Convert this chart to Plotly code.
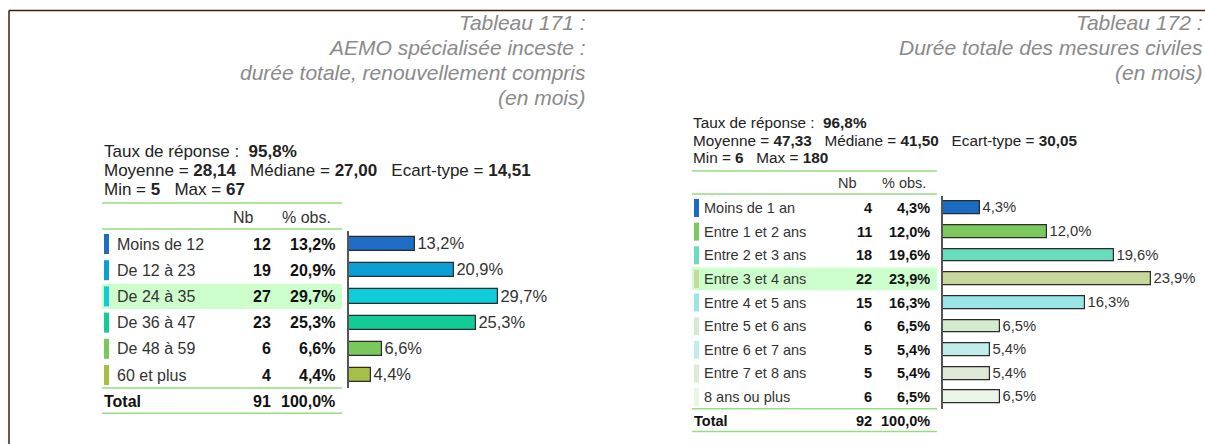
import plotly.graph_objects as go

W, H = 1205, 444
FONT = "Liberation Sans, Arial, sans-serif"

# ---- Tableau 171 data ----
left_title = ["Tableau 171 :", "AEMO spécialisée inceste :",
              "durée totale, renouvellement compris", "(en mois)"]
left_categories = ["Moins de 12", "De 12 à 23", "De 24 à 35", "De 36 à 47",
                   "De 48 à 59", "60 et plus"]
left_counts = [12, 19, 27, 23, 6, 4]
left_pcts = [13.2, 20.9, 29.7, 25.3, 6.6, 4.4]
left_colors = ["#1f6cc4", "#0b9fd6", "#0ccdd8", "#12cc98", "#78c85c", "#a6bf48"]
left_total = (91, "100,0%")
left_stats = [("Taux de réponse :", "95,8%"),
              ("Moyenne =", "28,14"), ("Médiane =", "27,00"), ("Ecart-type =", "14,51"),
              ("Min =", "5"), ("Max =", "67")]
left_highlight = "De 24 à 35"

# ---- Tableau 172 data ----
right_title = ["Tableau 172 :", "Durée totale des mesures civiles", "(en mois)"]
right_categories = ["Moins de 1 an", "Entre 1 et 2 ans", "Entre 2 et 3 ans",
                    "Entre 3 et 4 ans", "Entre 4 et 5 ans", "Entre 5 et 6 ans",
                    "Entre 6 et 7 ans", "Entre 7 et 8 ans", "8 ans ou plus"]
right_counts = [4, 11, 18, 22, 15, 6, 5, 5, 6]
right_pcts = [4.3, 12.0, 19.6, 23.9, 16.3, 6.5, 5.4, 5.4, 6.5]
right_colors = ["#1a6cc6", "#7bc95e", "#6adcbe", "#c8d89c", "#9ae6e6",
                "#d4ecce", "#c0ecec", "#e0e8d6", "#eaf5e6"]
right_total = (92, "100,0%")
right_stats = [("Taux de réponse :", "96,8%"),
               ("Moyenne =", "47,33"), ("Médiane =", "41,50"), ("Ecart-type =", "30,05"),
               ("Min =", "6"), ("Max =", "180")]
right_highlight = "Entre 3 et 4 ans"


def px(x):
    return x / W


def py(y):
    return 1 - y / H


def fmt_pct(v):
    return f"{v:.1f}".replace(".", ",") + "%"


fig = go.Figure()
annotations = []
shapes = []

RULE = "#95dd80"
NBSP = "\u00a0"


def text(x, y, s, size, anchor="left", bold=False, color="#333", italic=False):
    if bold:
        s = f"<b>{s}</b>"
    if italic:
        s = f"<i>{s}</i>"
    annotations.append(dict(
        x=px(x), y=py(y), xref="paper", yref="paper", text=s, showarrow=False,
        xanchor=anchor, yanchor="middle", borderpad=0,
        font=dict(family=FONT, size=size, color=color)))


def panel(cfg):
    cats, counts, pcts, colors = cfg["cats"], cfg["counts"], cfg["pcts"], cfg["colors"]
    fs, sfs = cfg["fs"], cfg["sfs"]
    # title (right aligned, italic grey)
    for i, line in enumerate(cfg["title"]):
        text(cfg["title_x"], cfg["title_y0"] + i * cfg["title_dy"], line, cfg["title_fs"],
             anchor="right", italic=True, color="#8a8a8a")
    # summary statistics
    st = cfg["stats"]
    sx, sy, sdy = cfg["stats_x"], cfg["stats_y"], cfg["stats_dy"]
    sp = NBSP * 3
    text(sx, sy, f"{st[0][0]}{NBSP}{NBSP}<b>{st[0][1]}</b>", sfs, color="#222")
    text(sx, sy + sdy,
         f"{st[1][0]} <b>{st[1][1]}</b>{sp}{st[2][0]} <b>{st[2][1]}</b>{sp}{st[3][0]} <b>{st[3][1]}</b>",
         sfs, color="#222")
    text(sx, sy + 2 * sdy, f"{st[4][0]} <b>{st[4][1]}</b>{sp}{st[5][0]} <b>{st[5][1]}</b>",
         sfs, color="#222")

    x0, x1 = cfg["tab_x0"], cfg["tab_x1"]
    top, dy = cfg["row0"], cfg["row_dy"]
    rule1, rule2 = cfg["rule1"], cfg["rule2"]
    # header rules and header text
    for yy in (rule1, rule2):
        shapes.append(dict(type="line", xref="paper", yref="paper", x0=px(x0), x1=px(x1),
                           y0=py(yy), y1=py(yy), line=dict(color=RULE, width=1.5)))
    hy = (rule1 + rule2) / 2 + 1
    text(cfg["hdr_nb"], hy, "Nb", fs, anchor="right")
    text(cfg["hdr_pct"], hy, "% obs.", fs, anchor="right")

    for i, (c, n, p, col) in enumerate(zip(cats, counts, pcts, colors)):
        yc = top + i * dy
        if c == cfg["highlight"]:
            shapes.append(dict(type="rect", xref="paper", yref="paper", layer="below",
                               x0=px(x0), x1=px(x1), y0=py(yc - dy / 2 + 0.5),
                               y1=py(yc + dy / 2 - 0.5), fillcolor="#ccffcc", line_width=0))
        mh = cfg["marker_h"]
        shapes.append(dict(type="rect", xref="paper", yref="paper",
                           x0=px(x0 + 2), x1=px(x0 + 7), y0=py(yc - mh / 2), y1=py(yc + mh / 2),
                           fillcolor=col, line_width=0))
        text(cfg["label_x"], yc, c, fs)
        text(cfg["nb_x"], yc, str(n), fs, anchor="right", bold=True, color="#111")
        text(cfg["pct_x"], yc, fmt_pct(p), fs, anchor="right", bold=True, color="#111")

    bottom = top + (len(cats) - 0.5) * dy
    ty = bottom + dy / 2 + 0.5
    text(x0 + 1, ty, "Total", fs, bold=True, color="#111")
    text(cfg["nb_x"], ty, str(cfg["total"][0]), fs, anchor="right", bold=True, color="#111")
    text(cfg["pct_x"], ty, cfg["total"][1], fs, anchor="right", bold=True, color="#111")
    for yy in (bottom, bottom + dy - 1):
        shapes.append(dict(type="line", xref="paper", yref="paper", x0=px(x0), x1=px(x1),
                           y0=py(yy), y1=py(yy), line=dict(color=RULE, width=1.5)))

    # horizontal bar chart
    xa, ya = cfg["xaxis"], cfg["yaxis"]
    fig.add_trace(go.Bar(
        orientation="h", y=cats, x=pcts, xaxis=xa.replace("axis", ""), yaxis=ya.replace("axis", ""),
        marker=dict(color=colors, line=dict(color="#2b2b2b", width=1.2)),
        width=cfg["bar_w"], text=[fmt_pct(v) for v in pcts], textposition="outside",
        constraintext="none",
        textfont=dict(family=FONT, size=cfg["bfs"], color="#333"), cliponaxis=False,
        hoverinfo="skip", showlegend=False))
    ytop = top - dy / 2
    fig.layout[xa] = dict(domain=[px(cfg["bar_x0"]), px(cfg["bar_x1"])], range=[0, 30],
                          visible=False, anchor=ya.replace("axis", ""))
    fig.layout[ya] = dict(domain=[py(bottom), py(ytop)], autorange="reversed",
                          categoryorder="array", categoryarray=cats,
                          showticklabels=False, ticks="", showgrid=False, zeroline=False,
                          showline=True, linecolor="#555", linewidth=1.5,
                          anchor=xa.replace("axis", ""))


panel(dict(cats=left_categories, counts=left_counts, pcts=left_pcts, colors=left_colors,
           title=left_title, title_x=587, title_y0=22, title_dy=25, title_fs=21,
           stats=left_stats, stats_x=103, stats_y=151, stats_dy=19, sfs=17, fs=16, bfs=16.5,
           tab_x0=102, tab_x1=342, row0=244, row_dy=26.2, rule1=203, rule2=229,
           hdr_nb=255, hdr_pct=332, label_x=116, nb_x=272, pct_x=336, marker_h=20,
           highlight=left_highlight, total=left_total,
           xaxis="xaxis", yaxis="yaxis", bar_x0=349, bar_x1=499, bar_w=0.54))

panel(dict(cats=right_categories, counts=right_counts, pcts=right_pcts, colors=right_colors,
           title=right_title, title_x=1204, title_y0=22, title_dy=25, title_fs=21,
           stats=right_stats, stats_x=692, stats_y=123, stats_dy=17, sfs=15.3, fs=14.5, bfs=14.8,
           tab_x0=692, tab_x1=937, row0=208, row_dy=23.63, rule1=171, rule2=194,
           hdr_nb=858, hdr_pct=927, label_x=703, nb_x=873, pct_x=931, marker_h=18,
           highlight=right_highlight, total=right_total,
           xaxis="xaxis2", yaxis="yaxis2", bar_x0=943, bar_x1=1204, bar_w=0.54))

# frame lines at the top and left edge
shapes.append(dict(type="line", xref="paper", yref="paper", x0=px(9), x1=1,
                   y0=py(10.5), y1=py(10.5), line=dict(color="#3b1c10", width=1.5)))
shapes.append(dict(type="line", xref="paper", yref="paper", x0=px(9), x1=px(9),
                   y0=py(10.5), y1=0, line=dict(color="#3b1c10", width=1.5)))

fig.update_layout(width=W, height=H, margin=dict(l=0, r=0, t=0, b=0),
                  paper_bgcolor="white", plot_bgcolor="rgba(0,0,0,0)",
                  annotations=annotations, shapes=shapes, bargap=0)

fig.write_html("out.html")
